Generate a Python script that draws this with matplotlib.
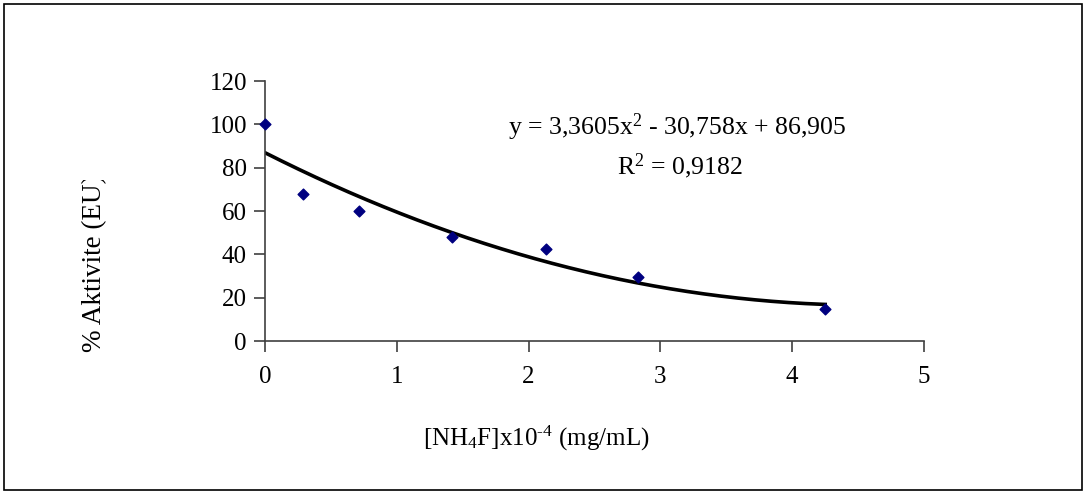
import numpy as np
import matplotlib
matplotlib.use("Agg")
import matplotlib.pyplot as plt
from matplotlib.patches import Rectangle

conc = [0.0, 0.285, 0.71, 1.42, 2.13, 2.83, 4.25]
activity = [100, 68, 60, 48, 42.5, 29.5, 15]
coef = [3.3605, -30.758, 86.905]
r2_text = "0,9182"
xticks = [0, 1, 2, 3, 4, 5]
yticks = [0, 20, 40, 60, 80, 100, 120]

plt.rcParams['font.family'] = ['Liberation Serif', 'DejaVu Serif']
plt.rcParams['mathtext.fontset'] = 'custom'
plt.rcParams['mathtext.rm'] = 'Liberation Serif'
plt.rcParams['mathtext.it'] = 'Liberation Serif'

W, H = 1086, 494
fig = plt.figure(figsize=(W/100, H/100), dpi=100)
ax = fig.add_axes([265/W, 1-341/H, (924-265)/W, (341-81)/H])

# outer border
fig.patches.append(Rectangle((4/W, 4/H), (1082-4)/W, (490-4)/H, transform=fig.transFigure,
                             fill=False, edgecolor='black', linewidth=1.2))

xs = np.linspace(min(conc), max(conc), 200)
ax.plot(xs, np.polyval(coef, xs), color='black', linewidth=2.6)
ax.scatter(conc, activity, marker='D', s=30, color='#000080', zorder=3, clip_on=False)

ax.set_xlim(0, 5)
ax.set_ylim(0, 120)
ax.set_xticks(xticks)
ax.set_yticks(yticks)
for s in ['top', 'right']:
    ax.spines[s].set_visible(False)
for s in ['left', 'bottom']:
    ax.spines[s].set_color('#404040')
    ax.spines[s].set_linewidth(1.2)
ax.tick_params(axis='y', direction='out', length=8, width=1.2, color='#404040', labelsize=18, pad=5)
ax.tick_params(axis='x', direction='out', length=8, width=1.2, color='#404040', labelsize=18, pad=10)

ax.text(677/W, 1-127/H, r"y = 3,3605x$^{2}$ - 30,758x + 86,905", transform=fig.transFigure,
        ha='center', va='center', fontsize=18.5)
ax.text(680/W, 1-166/H, r"R$^{2}$ = " + r2_text, transform=fig.transFigure,
        ha='center', va='center', fontsize=18.5)

fig.text(536/W, 1-438/H, "[NH$_{4}$F]x10$^{\u20104}$ (mg/mL)",
         ha='center', va='center', fontsize=18)

yl = fig.text(95/W, 1-263/H, "% Aktivite (EU)", rotation=90, ha='center', va='center', fontsize=19.5)
clip = Rectangle((0, 0), 1, 1-180/H, transform=fig.transFigure, visible=False)
fig.patches.append(clip)
yl.set_clip_path(clip)

fig.savefig("out.png", dpi=100)
